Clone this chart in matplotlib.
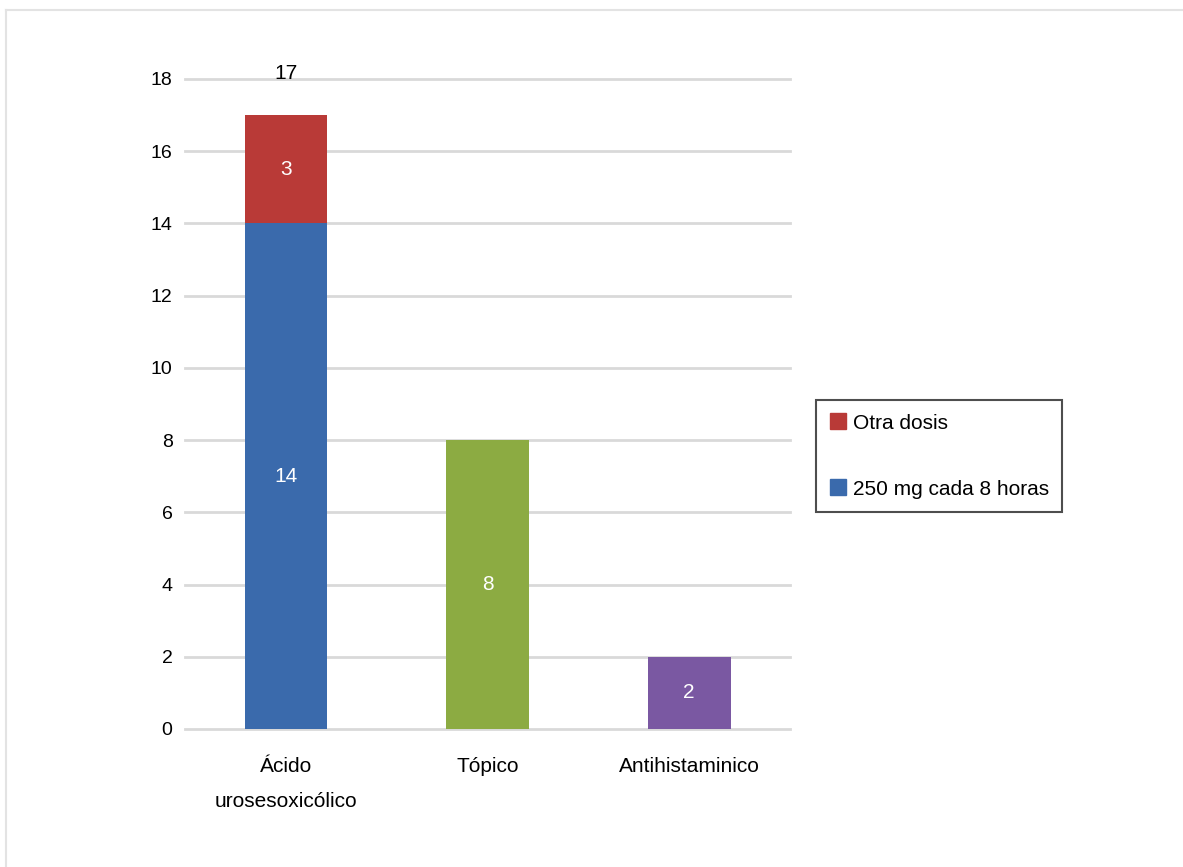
import matplotlib
matplotlib.use('Agg')
import matplotlib.pyplot as plt
from matplotlib.lines import Line2D
from matplotlib.patches import Patch
import numpy as np

plt.rcParams['font.family'] = ['Liberation Sans Narrow', 'Liberation Sans', 'DejaVu Sans']

# datos
categorias = ['Ácido\nurosesoxicólico', 'Tópico', 'Antihistaminico']
dosis_250 = [14, 0, 0]
otra_dosis = [3, 0, 0]
topico = [0, 8, 0]
antihist = [0, 0, 2]
totales = [17, 8, 2]
yticks = [0, 2, 4, 6, 8, 10, 12, 14, 16, 18]

c_azul = '#3a6aac'
c_rojo = '#b93a37'
c_verde = '#8cab42'
c_morado = '#7a58a2'

fig = plt.figure(figsize=(11.83, 8.67), dpi=100)
ax = fig.add_axes([0.1564, 0.1592, 0.5114, 0.7497])

x = np.arange(len(categorias))
w = 0.41

b1 = ax.bar(x[0], dosis_250[0], w, color=c_azul, zorder=3)
b2 = ax.bar(x[0], otra_dosis[0], w, bottom=dosis_250[0], color=c_rojo, zorder=3)
b3 = ax.bar(x[1], topico[1], w, color=c_verde, zorder=3)
b4 = ax.bar(x[2], antihist[2], w, color=c_morado, zorder=3)

for bars in [b1, b2, b3, b4]:
    ax.bar_label(bars, label_type='center', color='white', fontsize=15)

# total arriba
ax.text(x[0], totales[0] + 1.15, str(totales[0]), ha='center', va='center',
        fontsize=15, color='black')

ax.set_xlim(-0.5, 2.5)
ax.set_ylim(0, 18)
ax.set_yticks(yticks)
ax.set_xticks(x)
ax.set_xticklabels(categorias, fontsize=15, linespacing=2.05)
ax.tick_params(axis='y', length=0, pad=9, labelsize=14)
ax.tick_params(axis='x', length=0, pad=20)
for s in ax.spines.values():
    s.set_visible(False)
ax.yaxis.grid(True, color='#d9d9d9', linewidth=2, zorder=0)
ax.set_axisbelow(True)
for gl in ax.get_ygridlines():
    gl.set_clip_on(False)

handles = [Patch(color=c_rojo), Patch(color=c_azul)]
leg = fig.legend(handles, ['Otra dosis', '250 mg cada 8 horas'],
                 loc='center left', bbox_to_anchor=(0.69, 0.474),
                 fontsize=15, frameon=True, fancybox=False,
                 handlelength=0.8, handleheight=0.8, handletextpad=0.3,
                 labelspacing=2.25, borderpad=0.65, borderaxespad=0)
leg.get_frame().set_edgecolor('#222222')
leg.get_frame().set_linewidth(1.5)

# borde gris de la pagina
fig.add_artist(Line2D([6 / 1183, 1], [1 - 10 / 867, 1 - 10 / 867], color='#e3e3e3', linewidth=1.5))
fig.add_artist(Line2D([6 / 1183, 6 / 1183], [0, 1 - 10 / 867], color='#e3e3e3', linewidth=1.5))

fig.savefig('out.png', dpi=100)
